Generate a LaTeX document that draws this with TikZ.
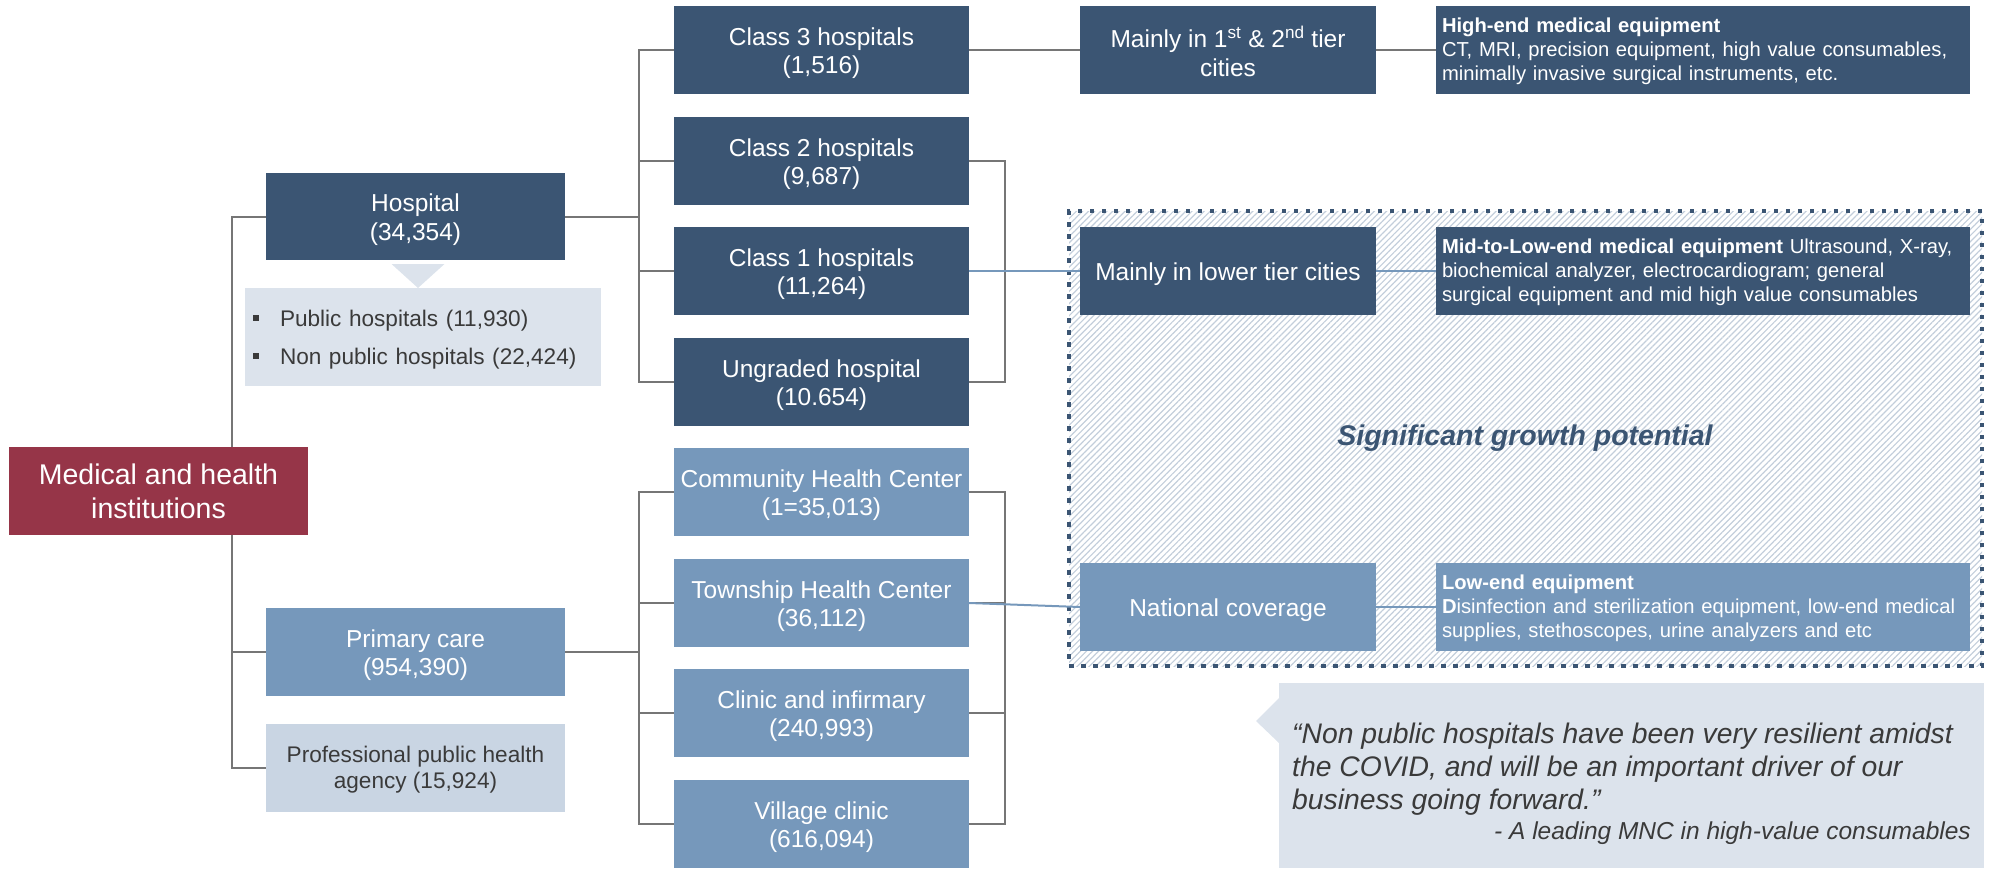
\documentclass[tikz,border=0pt]{standalone}
\usepackage{fontspec}
\setmainfont{Liberation Sans}
\usetikzlibrary{patterns.meta,calc}

\definecolor{cDark}{HTML}{3B5573}
\definecolor{cMid}{HTML}{7698BB}
\definecolor{cPale}{HTML}{C9D5E3}
\definecolor{cMist}{HTML}{DCE3EC}
\definecolor{cWine}{HTML}{963548}
\definecolor{cWire}{HTML}{767676}
\definecolor{cHatch}{HTML}{C3CEDB}
\definecolor{cInk}{HTML}{3A3A3A}

\newcommand{\setfs}[2]{\fontsize{#1}{#2}\selectfont}
\newcommand{\bul}{\textcolor{cInk}{\rule[6pt]{6pt}{6pt}}\hspace{21pt}}
% invisible prop that lowers the first line of a box label a little
\newcommand{\lift}[1]{\rule{0pt}{#1}}

\pgfdeclarelayer{back}
\pgfdeclarelayer{wires}
\pgfsetlayers{back,wires,main}

\begin{document}
\begin{tikzpicture}[x=1pt,y=-1pt,
  box/.style={rectangle, inner sep=0pt, outer sep=0pt, anchor=north west, align=center},
  tier/.style={box, text=white, font=\setfs{24.5}{28.5}, minimum height=88pt},
  leftcol/.style={tier, minimum width=299pt},
  classcol/.style={tier, minimum width=295pt},
  citycol/.style={tier, minimum width=296pt},
  detail/.style={box, text=white, font=\setfs{20.2}{24}, align=left,
                 text width=522pt, inner xsep=6pt, minimum height=88pt,
                 execute at begin node={\rule{0pt}{17pt}}},
  wire/.style={draw=cWire, line width=2pt},
  link/.style={draw=cMid, line width=2pt},
]
\useasboundingbox (0,0) rectangle (2005,868);

% hatched growth zone with dotted frame
\begin{pgfonlayer}{back}
\node[box, minimum width=913pt, minimum height=455pt,
      pattern={Lines[angle=45,distance=4.3pt,line width=1.2pt]}, pattern color=cHatch,
      draw=cDark, line width=4.5pt, dash pattern=on 4.5pt off 7.5pt] (zone) at (1069,211) {};
\end{pgfonlayer}

% root and first level
\node[leftcol, fill=cWine, font=\setfs{28.5}{34}] (med) at (9,447) {Medical and health\\institutions};
\node[leftcol, fill=cDark, minimum height=87pt] (hosp) at (266,173) {\lift{24pt}Hospital\\(34,354)};
\node[leftcol, fill=cMid] (prim) at (266,608) {\lift{24pt}Primary care\\(954,390)};
\node[leftcol, fill=cPale, text=cInk, font=\setfs{22.6}{25.6}] (prof) at (266,724)
  {\lift{20pt}Professional public health\\agency (15,924)};

% ownership split under Hospital
\node[box, fill=cMist, text=cInk, font=\setfs{22.6}{38}, align=left,
      minimum width=356pt, minimum height=98pt, text width=340pt, inner xsep=8pt] (split) at (245,288)
  {\lift{22pt}\bul Public hospitals (11,930)\\\bul Non public hospitals (22,424)};
\fill[cMist] ($(hosp.south)+(-24,4)$) -- ($(hosp.south)+(29,4)$) -- ($(hosp.south)+(2.5,28)$) -- cycle;

% hospital classes
\node[classcol, fill=cDark] (c3) at (674,6) {\lift{24pt}Class 3 hospitals\\(1,516)};
\node[classcol, fill=cDark] (c2) at (674,117) {\lift{24pt}Class 2 hospitals\\(9,687)};
\node[classcol, fill=cDark] (c1) at (674,227) {\lift{24pt}Class 1 hospitals\\(11,264)};
\node[classcol, fill=cDark] (ung) at (674,338) {\lift{24pt}Ungraded hospital\\(10.654)};

% primary care units
\node[classcol, fill=cMid] (comm) at (674,448) {\lift{24pt}Community Health Center\\(1=35,013)};
\node[classcol, fill=cMid] (town) at (674,559) {\lift{24pt}Township Health Center\\(36,112)};
\node[classcol, fill=cMid] (clin) at (674,669) {\lift{24pt}Clinic and infirmary\\(240,993)};
\node[classcol, fill=cMid] (vill) at (674,780) {\lift{24pt}Village clinic\\(616,094)};

% city tiers
\node[citycol, fill=cDark] (tierA) at (1080,6) {\lift{24pt}Mainly in 1\textsuperscript{st} \& 2\textsuperscript{nd} tier\\cities};
\node[citycol, fill=cDark] (tierB) at (1080,227) {\lift{24pt}Mainly in lower tier cities};
\node[citycol, fill=cMid] (natl) at (1080,563) {\lift{24pt}National coverage};

% equipment segments
\node[detail, fill=cDark] (hiEnd) at (1436,6)
  {\textbf{High-end medical equipment}\\CT, MRI, precision equipment, high value consumables,\\minimally invasive surgical instruments, etc.};
\node[detail, fill=cDark] (midEnd) at (1436,227)
  {\textbf{Mid-to-Low-end medical equipment} Ultrasound, X-ray,\\biochemical analyzer, electrocardiogram; general\\surgical equipment and mid high value consumables};
\node[detail, fill=cMid] (lowEnd) at (1436,563)
  {\textbf{Low-end equipment}\\\textbf{D}isinfection and sterilization equipment, low-end medical\\supplies, stethoscopes, urine analyzers and etc};

\node[anchor=base, inner sep=0pt, text=cDark, font=\setfs{28.5}{34}\bfseries\itshape] (motto) at (1525,445.5)
  {Significant growth potential};

% quote callout
\node[box, fill=cMist, minimum width=705pt, minimum height=185pt] (quote) at (1279,683) {};
\fill[cMist] ($(quote.north west)+(0,15)$) -- ($(quote.north west)+(-23,38)$) -- ($(quote.north west)+(0,60)$) -- cycle;
\node[anchor=north west, inner sep=0pt, align=left, text=cInk, font=\setfs{28.3}{33}\itshape] (qtext) at (1292,722.5)
  {“Non public hospitals have been very resilient amidst\\the COVID, and will be an important driver of our\\business going forward.”};
\node[anchor=base east, inner sep=0pt, text=cInk, font=\setfs{24.5}{30}\itshape] (qsrc) at (1971,839)
  {- A leading MNC in high-value consumables};

% connectors
\coordinate (trunk) at (232,0);
\coordinate (busL) at (639,0);
\coordinate (busR) at (1005,0);
\begin{pgfonlayer}{wires}
\draw[wire] (hosp.west) -- (hosp.west -| trunk) |- (prof.west);
\draw[wire] (prim.west) -- (prim.west -| trunk);

\draw[wire] (hosp.east) -- (hosp.east -| busL);
\draw[wire] (c3.west) -- (c3.west -| busL) |- (ung.west);
\draw[wire] (c2.west) -- (c2.west -| busL);
\draw[wire] (c1.west) -- (c1.west -| busL);
\draw[wire] (c2.east) -- (c2.east -| busR) |- (ung.east);
\draw[wire] (c1.east) -- (c1.east -| busR);

\draw[wire] (prim.east) -- (prim.east -| busL);
\draw[wire] (comm.west) -- (comm.west -| busL) |- (vill.west);
\draw[wire] (town.west) -- (town.west -| busL);
\draw[wire] (clin.west) -- (clin.west -| busL);
\draw[wire] (comm.east) -- (comm.east -| busR) |- (vill.east);
\draw[wire] (town.east) -- (town.east -| busR);
\draw[wire] (clin.east) -- (clin.east -| busR);

\draw[wire] (c3.east) -- (tierA.west);
\draw[wire] (tierA.east) -- (hiEnd.west);
\draw[link] (c1.east) -- (tierB.west);
\draw[link] (tierB.east) -- (midEnd.west);
\draw[link] (town.east) -- (natl.west);
\draw[link] (natl.east) -- (lowEnd.west);
\end{pgfonlayer}
\end{tikzpicture}
\end{document}
